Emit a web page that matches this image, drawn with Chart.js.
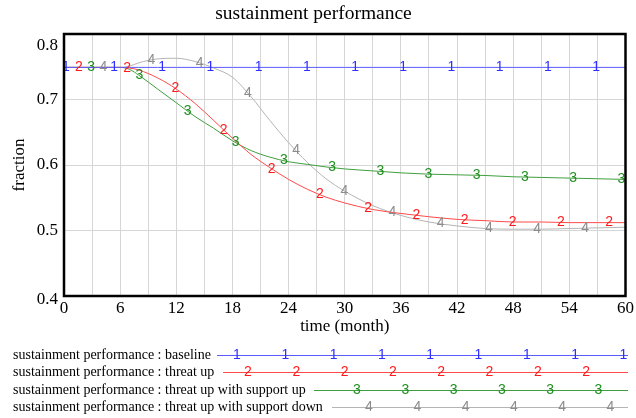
<!DOCTYPE html>
<html>
<head>
<meta charset="utf-8">
<script src="https://cdn.jsdelivr.net/npm/chart.js@4.4.1/dist/chart.umd.min.js"></script>
<style>
  html, body { margin: 0; padding: 0; background: #fff; }
</style>
</head>
<body>
<canvas id="chart" width="636" height="418"></canvas>
<script>
// months on the time axis
const months = [0, 6, 7, 8, 10, 12, 14, 16, 18, 20, 22, 24, 26, 28, 30, 33, 36, 39, 42, 45, 48, 51, 54, 57, 60];

// sustainment performance (fraction) per run
const baseline = [0.749, 0.749, 0.749, 0.749, 0.749, 0.749, 0.749, 0.749, 0.749, 0.749, 0.749, 0.749, 0.749,
                  0.749, 0.749, 0.749, 0.749, 0.749, 0.749, 0.749, 0.749, 0.749, 0.749, 0.749, 0.749];
const threatUp = [0.749, 0.749, 0.748, 0.745, 0.733, 0.716, 0.694, 0.668, 0.641, 0.616, 0.596, 0.578, 0.563,
                  0.551, 0.542, 0.532, 0.526, 0.521, 0.517, 0.515, 0.513, 0.513, 0.512, 0.512, 0.512];
const threatUpSupportUp = [0.749, 0.749, 0.746, 0.737, 0.716, 0.695, 0.674, 0.656, 0.637, 0.622, 0.612, 0.605, 0.601,
                           0.597, 0.594, 0.591, 0.588, 0.586, 0.585, 0.584, 0.582, 0.581, 0.580, 0.579, 0.578];
const threatUpSupportDown = [0.749, 0.749, 0.751, 0.756, 0.762, 0.763, 0.758, 0.748, 0.734, 0.704, 0.668, 0.634, 0.604,
                             0.579, 0.560, 0.538, 0.523, 0.513, 0.507, 0.503, 0.502, 0.502, 0.503, 0.504, 0.505];

const seriesNames = [
  'sustainment performance : baseline',
  'sustainment performance : threat up',
  'sustainment performance : threat up with support up',
  'sustainment performance : threat up with support down'
];
const yTicks = [0.4, 0.5, 0.6, 0.7, 0.8];

const lineColors = ['#5b5bff', '#ff4a4a', '#3f9f3f', '#b4b4b4'];
const markColors = ['#2f2fff', '#ff1a1a', '#1f8f1f', '#8c8c8c'];

// where the run numbers sit along each line (months), Vensim style
const markStart = [0.2, 1.6, 2.9, 4.2];
const markStep = 5.15;

// legend layout: first number x, line start x, row y
const legendRows = [
  { y: 355, lineX: 217, firstMark: 237 },
  { y: 372, lineX: 223, firstMark: 248 },
  { y: 390, lineX: 314, firstMark: 357 },
  { y: 407, lineX: 332, firstMark: 369 }
];

const allSeries = [baseline, threatUp, threatUpSupportUp, threatUpSupportDown];

function valueAt(data, t) {
  for (let i = 1; i < months.length; i++) {
    if (t <= months[i]) {
      const f = (t - months[i - 1]) / (months[i] - months[i - 1]);
      return data[i - 1] + f * (data[i] - data[i - 1]);
    }
  }
  return data[data.length - 1];
}

const serif = '"Liberation Serif", "Times New Roman", serif';
const sans = '"Liberation Sans", Arial, sans-serif';
const yMin = yTicks[0], yMax = yTicks[yTicks.length - 1];

const vensimDecor = {
  id: 'vensimDecor',
  afterDatasetsDraw(chart) {
    const ctx = chart.ctx;
    const xs = chart.scales.x, ys = chart.scales.y;
    const a = chart.chartArea;
    ctx.save();
    ctx.font = '14px ' + sans;
    ctx.textAlign = 'center';
    ctx.textBaseline = 'middle';
    allSeries.forEach((data, i) => {
      ctx.fillStyle = markColors[i];
      for (let t = markStart[i]; t <= 60; t += markStep) {
        ctx.fillText(String(i + 1), xs.getPixelForValue(t), ys.getPixelForValue(valueAt(data, t)));
      }
    });
    // frame
    ctx.strokeStyle = '#000';
    ctx.lineWidth = 2.5;
    ctx.strokeRect(a.left, a.top, a.right - a.left, a.bottom - a.top);
    // end labels of the y axis sit inside the frame height, as Vensim does
    ctx.font = '17px ' + serif;
    ctx.fillStyle = '#000';
    ctx.textAlign = 'right';
    ctx.fillText(yMax.toFixed(1), a.left - 6, ys.getPixelForValue(yMax) + 12);
    ctx.fillText(yMin.toFixed(1), a.left - 6, ys.getPixelForValue(yMin) + 4);
    ctx.restore();
  },
  afterDraw(chart) {
    const ctx = chart.ctx;
    ctx.save();
    legendRows.forEach((row, i) => {
      ctx.font = '14px ' + serif;
      ctx.fillStyle = '#000';
      ctx.textAlign = 'left';
      ctx.textBaseline = 'middle';
      ctx.fillText(seriesNames[i], 13, row.y);
      ctx.strokeStyle = lineColors[i];
      ctx.lineWidth = 1;
      ctx.beginPath();
      ctx.moveTo(row.lineX, row.y + 0.5);
      ctx.lineTo(628, row.y + 0.5);
      ctx.stroke();
      ctx.font = '14px ' + sans;
      ctx.textAlign = 'center';
      ctx.fillStyle = markColors[i];
      for (let x = row.firstMark; x <= 628; x += 48.3) {
        ctx.fillText(String(i + 1), x, row.y);
      }
    });
    ctx.restore();
  }
};

Chart.defaults.color = '#000';

new Chart(document.getElementById('chart'), {
  type: 'line',
  data: {
    datasets: allSeries.map((data, i) => ({
      label: seriesNames[i],
      data: months.map((m, j) => ({ x: m, y: data[j] })),
      borderColor: lineColors[i],
      borderWidth: 1,
      pointRadius: 0,
      cubicInterpolationMode: 'monotone',
      fill: false
    }))
  },
  options: {
    responsive: false,
    animation: false,
    layout: { padding: { left: 0, right: 9, top: 0, bottom: 78 } },
    plugins: {
      legend: { display: false },
      tooltip: { enabled: false },
      title: {
        display: true,
        text: 'sustainment performance',
        font: { family: serif, size: 19.5, weight: 'normal' },
        color: '#000',
        padding: { top: 2, bottom: 8.6 }
      }
    },
    scales: {
      x: {
        type: 'linear',
        min: 0,
        max: 60,
        afterFit: s => { s.height = 44; },
        ticks: {
          stepSize: 3,
          autoSkip: false,
          maxRotation: 0,
          padding: 2,
          font: { family: serif, size: 17 },
          callback: v => (v % 6 === 0 ? String(v) : '')
        },
        grid: { color: '#d6d6d6', lineWidth: 1, drawTicks: false },
        border: { display: false },
        title: {
          display: true,
          text: 'time (month)',
          font: { family: serif, size: 17 },
          padding: { top: 0, bottom: 3 }
        }
      },
      y: {
        min: yMin,
        max: yMax,
        afterFit: s => { s.width = 64; },
        afterBuildTicks: s => { s.ticks = yTicks.map(v => ({ value: v })); },
        ticks: {
          padding: 6,
          font: { family: serif, size: 17 },
          // first and last labels are drawn by the plugin, shifted inward
          callback: v => (v === yMin || v === yMax ? '' : v.toFixed(1))
        },
        grid: { color: '#d6d6d6', lineWidth: 1, drawTicks: false },
        border: { display: false },
        title: {
          display: true,
          text: 'fraction',
          font: { family: serif, size: 17 },
          padding: { top: 9, bottom: 0 }
        }
      }
    }
  },
  plugins: [vensimDecor]
});
</script>
</body>
</html>
